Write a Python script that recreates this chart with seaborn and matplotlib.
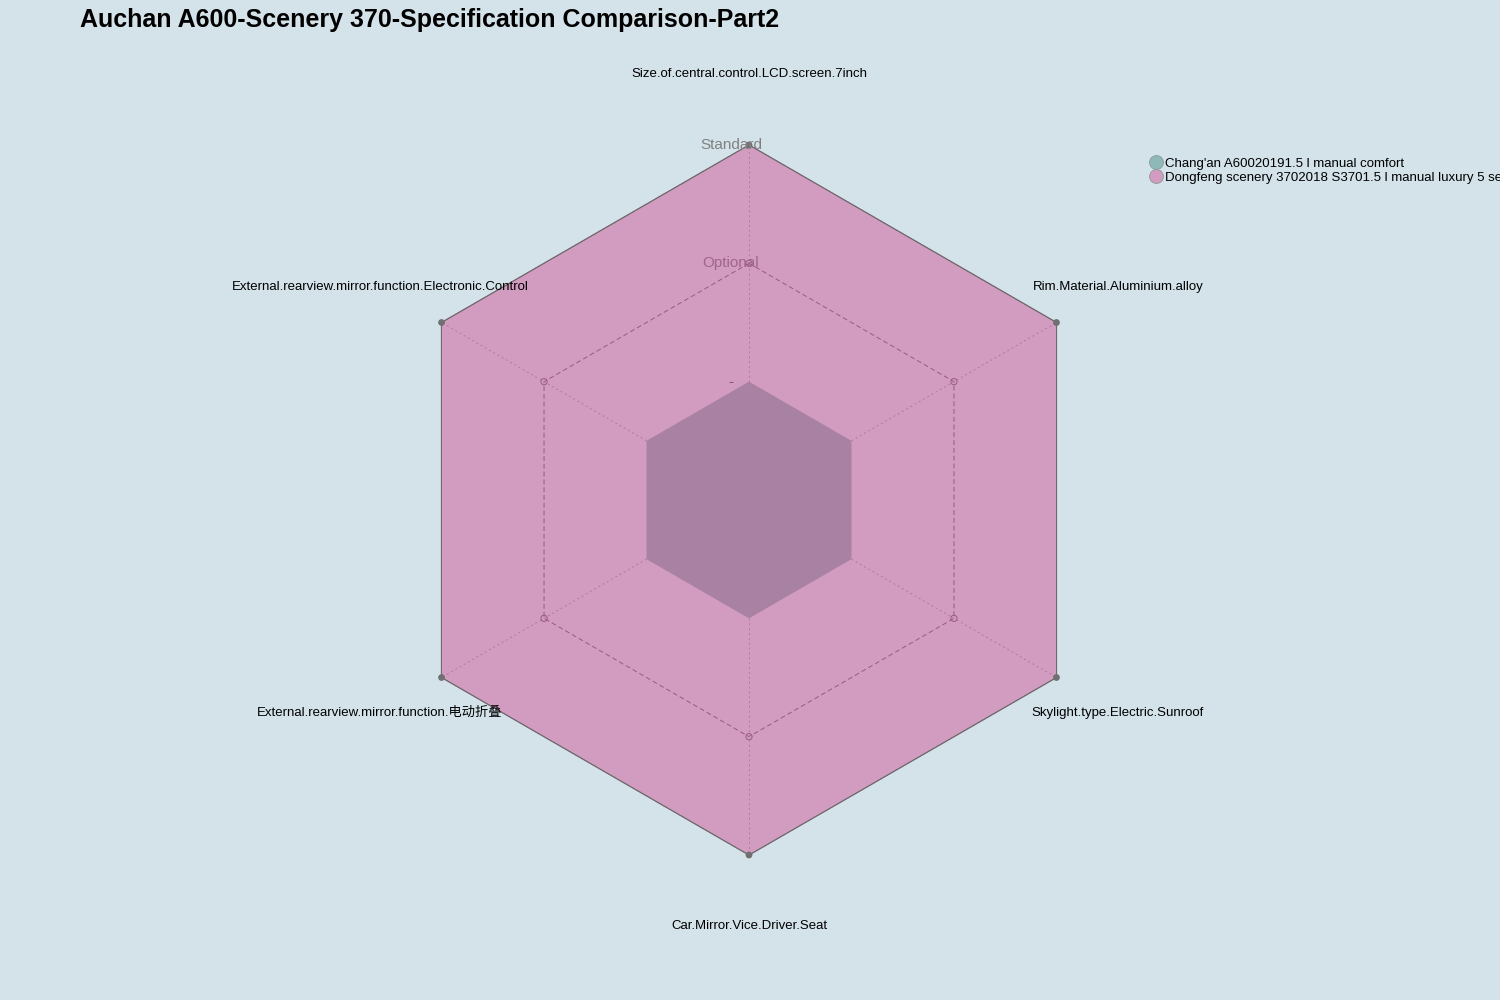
import numpy as np
import pandas as pd
import matplotlib
matplotlib.use("Agg")
import matplotlib.pyplot as plt
from matplotlib.lines import Line2D
import seaborn as sns

# data: categories go counter-clockwise from the top, like fmsb
categories = [
    "Size.of.central.control.LCD.screen.7inch",
    "External.rearview.mirror.function.Electronic.Control",
    "External.rearview.mirror.function.电动折叠",
    "Car.Mirror.Vice.Driver.Seat",
    "Skylight.type.Electric.Sunroof",
    "Rim.Material.Aluminium.alloy",
]
levels = ["-", "Optional", "Standard"]
series_names = [
    "Chang'an A60020191.5 l manual comfort",
    "Dongfeng scenery 3702018 S3701.5 l manual luxury 5 seats",
]
changan_values = [2, 2, 2, 2, 2, 2]
dongfeng_values = [2, 2, 2, 2, 2, 2]

series_colors = ["#8FB9B9", "#D29BC0"]
bg = "#D4E3EA"

sns.set_theme(style="white", rc={"figure.facecolor": bg, "axes.facecolor": bg,
                                 "text.color": "black"})
plt.rcParams["font.family"] = ["Liberation Sans", "Noto Sans CJK SC", "DejaVu Sans"]

n = len(categories)
angles = np.deg2rad(90 + np.arange(n) * 360 / n)
nlev = len(levels)


def radius(v):
    # value 0 ("-") sits at 1/3, top level at 1 (center is not zero)
    return (np.asarray(v) + 1) / nlev


def xy(vals):
    r = radius(vals)
    return r * np.cos(angles), r * np.sin(angles)


fig = plt.figure(figsize=(15, 10), dpi=100)
ax = fig.add_axes([0, 0, 1, 1])
ax.set_xlim(-749 / 355, 751 / 355)
ax.set_ylim(-500 / 355, 500 / 355)
ax.axis("off")

# series polygons
for vals, col in zip([changan_values, dongfeng_values], series_colors):
    x, y = xy(vals)
    ax.fill(x, y, color=col, zorder=2)
    ax.plot(np.append(x, x[0]), np.append(y, y[0]), color="#6A6A6A", lw=0.6, zorder=3)

# centre hole (level "-")
x0, y0 = xy([0] * n)
ax.fill(x0, y0, color="#A982A3", zorder=4, lw=0)

# grid at "Optional" level
x1, y1 = xy([1] * n)
ax.plot(np.append(x1, x1[0]), np.append(y1, y1[0]), color="#9A5A80", lw=0.7,
        ls=(0, (5, 3)), zorder=5)
ax.scatter(x1, y1, s=20, facecolors="none", edgecolors="#9A5A80", lw=0.7, zorder=6)

# axis spokes
xt, yt = xy([nlev - 1] * n)
for i in range(n):
    ax.plot([x0[i], xt[i]], [y0[i], yt[i]], color="#B07A9C", lw=0.7, ls=(0, (2, 3)), zorder=5)

# vertex points
pts = pd.DataFrame({"x": xt, "y": yt})
sns.scatterplot(data=pts, x="x", y="y", color="#707070", s=24, edgecolor="none",
                ax=ax, zorder=7)

# level labels
lev_colors = ["#8A4F72", "#A0668A", "#808080"]
for k, lab in enumerate(levels):
    ax.text(-18 / 355, radius(k), lab, ha="center", va="center", fontsize=11,
            color=lev_colors[k], zorder=8)

# category labels
for i, lab in enumerate(categories):
    ax.text(1.2 * np.cos(angles[i]), 1.2 * np.sin(angles[i]), lab, ha="center",
            va="center", fontsize=9.5, color="black", zorder=8)

fig.text(80 / 1500, 1 - 20 / 1000, "Auchan A600-Scenery 370-Specification Comparison-Part2",
         fontsize=18, fontweight="bold", ha="left", va="center", color="black")

handles = [Line2D([], [], marker="o", ls="none", markersize=10, markerfacecolor=c,
                  markeredgecolor="#8A9A9A", markeredgewidth=0.6) for c in series_colors]
fig.legend(handles, series_names, loc="upper left", bbox_to_anchor=(1143 / 1500, 1 - 151 / 1000),
           frameon=False, fontsize=9.5, handletextpad=0.15, labelspacing=0.12,
           borderpad=0, handlelength=1.0, labelcolor="black")

fig.savefig("out.png", dpi=100, facecolor=bg)
